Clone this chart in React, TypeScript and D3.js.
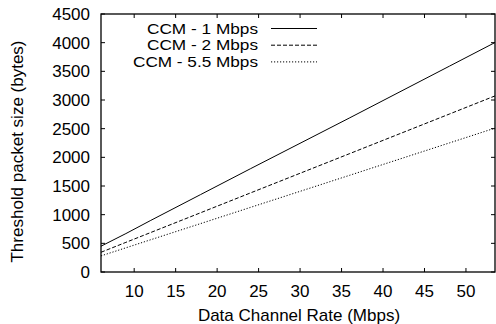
import React from 'react';
import * as d3 from 'd3';

// 802.11a/g data channel rates (Mbps)
const rates = [6, 9, 12, 18, 24, 36, 48, 54];

// threshold packet size (bytes) for each control channel rate
const ccm1 = [450, 670, 900, 1350, 1800, 2690, 3590, 4040];
const ccm2 = [344, 517, 689, 1033, 1378, 2066, 2755, 3100];
const ccm55 = [281, 422, 563, 844, 1126, 1688, 2251, 2533];

const seriesNames = ['CCM - 1 Mbps', 'CCM - 2 Mbps', 'CCM - 5.5 Mbps'];
const dashes = ['none', '4,2', '1.2,1.8'];

const xTicks = [10, 15, 20, 25, 30, 35, 40, 45, 50];
const yTicks = [0, 500, 1000, 1500, 2000, 2500, 3000, 3500, 4000, 4500];

const W = 496;
const H = 324;
const m = { left: 101, right: 495, top: 14, bottom: 272 };
const FONT = '"Liberation Sans", Arial, sans-serif';
const fs = 17;

const App = () => {
  const x = d3.scaleLinear().domain([6, 53.5]).range([m.left, m.right]);
  const y = d3.scaleLinear().domain([0, 4500]).range([m.bottom, m.top]);

  const allSeries = [ccm1, ccm2, ccm55];
  const line = d3.line<number>()
    .x((_, i) => x(rates[i]))
    .y(d => y(d));

  const tick = 4;

  // legend text measured widths (px) in the reference
  const legendWidths = [111, 111, 125];

  return (
    <svg width={W} height={H} style={{ position: 'absolute', left: 0, top: 0, background: '#fff' }}
      fontFamily={FONT} fontSize={fs}>
      <defs>
        <clipPath id="plot">
          <rect x={m.left} y={m.top} width={m.right - m.left} height={m.bottom - m.top} />
        </clipPath>
      </defs>

      {/* ticks, inside and mirrored */}
      {yTicks.map(v => (
        <g key={'y' + v} stroke="#000" strokeWidth={1}>
          <line x1={m.left} x2={m.left + tick} y1={y(v)} y2={y(v)} />
          <line x1={m.right} x2={m.right - tick} y1={y(v)} y2={y(v)} />
        </g>
      ))}
      {xTicks.map(v => (
        <g key={'x' + v} stroke="#000" strokeWidth={1}>
          <line x1={x(v)} x2={x(v)} y1={m.bottom} y2={m.bottom - tick} />
          <line x1={x(v)} x2={x(v)} y1={m.top} y2={m.top + tick} />
        </g>
      ))}

      {/* tick labels */}
      {yTicks.map(v => (
        <text key={'yl' + v} x={90} y={y(v)} dy="0.36em" textAnchor="end">{v}</text>
      ))}
      {xTicks.map(v => (
        <text key={'xl' + v} x={x(v)} y={296.5} textAnchor="middle">{v}</text>
      ))}

      {/* axis titles */}
      <text x={299} y={321} textAnchor="middle">Data Channel Rate (Mbps)</text>
      <text transform="translate(23,151.5) rotate(-90)" textAnchor="middle">Threshold packet size (bytes)</text>

      {/* series */}
      <g clipPath="url(#plot)">
        {allSeries.map((s, i) => (
          <path key={i} d={line(s) || ''} fill="none" stroke="#000" strokeWidth={1}
            strokeDasharray={dashes[i]} />
        ))}
      </g>

      {/* legend */}
      {seriesNames.map((n, i) => {
        const ly = 28.5 + i * 16.7;
        return (
          <g key={n}>
            <text x={258 - legendWidths[i]} y={ly} dy="0.36em" fontSize={14.5}
              textLength={legendWidths[i]} lengthAdjust="spacingAndGlyphs">{n}</text>
            <line x1={271} x2={317} y1={ly} y2={ly} stroke="#000" strokeWidth={1}
              strokeDasharray={dashes[i]} />
          </g>
        );
      })}

      {/* frame */}
      <rect x={m.left} y={m.top} width={m.right - m.left} height={m.bottom - m.top}
        fill="none" stroke="#000" strokeWidth={1.3} />
    </svg>
  );
};

export default App;
